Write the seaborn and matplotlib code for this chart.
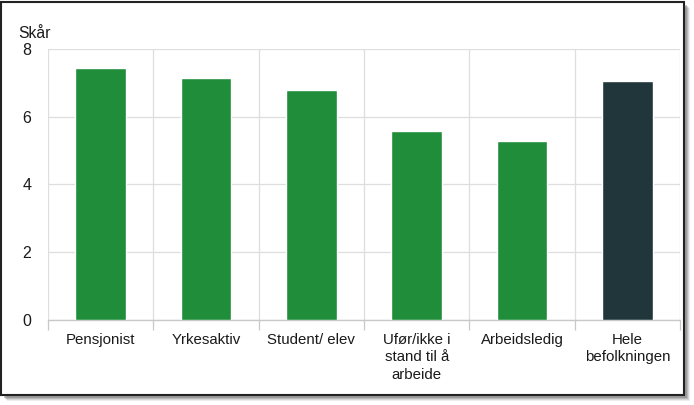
import matplotlib
matplotlib.use("Agg")
import matplotlib.pyplot as plt
from matplotlib.patches import Rectangle
from matplotlib.ticker import FixedLocator
import seaborn as sns
import pandas as pd

categories = ["Pensjonist", "Yrkesaktiv", "Student/ elev",
              "Ufør/ikke i\nstand til å\narbeide", "Arbeidsledig",
              "Hele\nbefolkningen"]
values = [7.45, 7.15, 6.78, 5.57, 5.27, 7.07]
bar_colors = ["#1f8d3a", "#1f8d3a", "#1f8d3a", "#1f8d3a", "#1f8d3a", "#21363b"]
y_ticks = [0, 2, 4, 6, 8]
y_label = "Skår"

sns.set_theme(style="white")
plt.rcParams['font.family'] = ['Liberation Sans', 'DejaVu Sans']

W, H = 694, 405
fig = plt.figure(figsize=(W / 100, H / 100), dpi=100)

# frame with drop shadow
for i, a in enumerate([0.10, 0.15, 0.22, 0.3]):
    off = 6 - i
    fig.patches.append(Rectangle(((1 + off) / W, (H - 395 - off) / H),
                                 683 / W, 393 / H, transform=fig.transFigure,
                                 facecolor="#555555", edgecolor="none", alpha=a, zorder=0))
fig.patches.append(Rectangle((1 / W, (H - 395) / H), 683 / W, 393.5 / H,
                             transform=fig.transFigure, facecolor="white",
                             edgecolor="#222222", linewidth=1.5, zorder=1))

ax = fig.add_axes([48 / W, 1 - 320 / H, (680 - 48) / W, (320 - 49) / H])
ax.set_zorder(2)
ax.patch.set_alpha(0)

df = pd.DataFrame({"cat": categories, "val": values})
sns.barplot(data=df, x="cat", y="val", hue="cat", palette=bar_colors,
            width=0.48, legend=False, ax=ax, saturation=1, zorder=3)

ax.set_xlim(-0.5, len(categories) - 0.5)
ax.set_ylim(0, 8)
ax.set_yticks(y_ticks)
ax.set_xlabel("")
ax.set_ylabel("")

ax.xaxis.set_minor_locator(FixedLocator([i - 0.5 for i in range(len(categories) + 1)]))
ax.grid(True, axis="y", which="major", color="#dedede", linewidth=0.9, zorder=0)
ax.grid(True, axis="x", which="minor", color="#dedede", linewidth=0.9, zorder=0)
ax.grid(False, axis="x", which="major")
ax.set_axisbelow(True)

ax.tick_params(axis="x", which="major", length=0, pad=9.5, labelsize=10.8, labelcolor="#1a1a1a")
ax.tick_params(axis="x", which="minor", length=7.5, width=0.9, color="#c8c8c8", bottom=True)
ax.tick_params(axis="y", length=0, pad=12, labelsize=11.5, labelcolor="#1a1a1a")
for lbl in ax.get_xticklabels():
    lbl.set_linespacing(1.3)

for s in ["top", "right", "left"]:
    ax.spines[s].set_visible(False)
ax.spines["bottom"].set_color("#c8c8c8")
ax.spines["bottom"].set_linewidth(1.0)

fig.text(18 / W, 1 - 33 / H, y_label, fontsize=11.3, color="#1a1a1a",
         ha="left", va="center", zorder=5)

fig.savefig("out.png", dpi=100)
